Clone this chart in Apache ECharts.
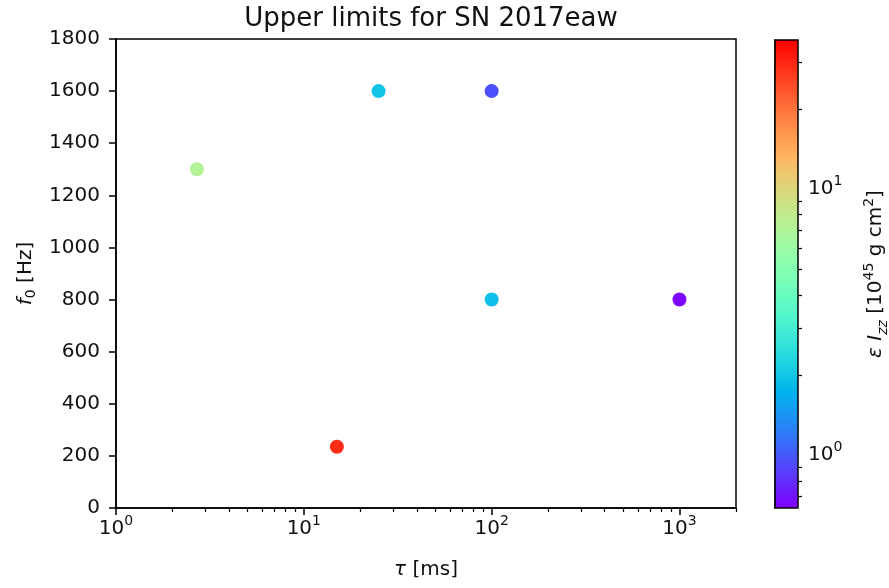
<!DOCTYPE html>
<html>
<head>
<meta charset="utf-8">
<script src="https://cdn.jsdelivr.net/npm/echarts@6/dist/echarts.min.js"></script>
<style>
  html, body { margin: 0; padding: 0; background: #fff; }
  #chart { width: 889px; height: 588px; }
</style>
</head>
<body>
<div id="chart"></div>
<script>
// upper limits per search: damping time tau [ms], frequency f0 [Hz], eps*Izz [1e45 g cm^2]
var tau = [2.7, 25, 100, 100, 1000, 15]
var f0 = [1300, 1600, 1600, 800, 800, 235]
var epsIzz = [7.2, 1.97, 0.95, 1.9, 0.65, 29]

// axis ranges and ticks
var tauMin = 1
var tauMax = 2000
var tauMajor = [1, 10, 100, 1000]
var tauMinor = [2, 3, 4, 5, 6, 7, 8, 9, 20, 30, 40, 50, 60, 70, 80, 90, 200, 300, 400, 500, 600, 700, 800, 900, 2000]
var fMin = 0
var fMax = 1800
var fStep = 200
var cbMin = 0.632
var cbMax = 36.3
var cbMajor = [1, 10]
var cbMinor = [0.7, 0.8, 0.9, 2, 3, 4, 5, 6, 7, 8, 9, 20, 30]

var FONT = 'DejaVu Sans'
var INK = '#111'
var lg = function(v) { return Math.log10(v) }

// matplotlib 'rainbow' colormap stops
function rainbow(n) {
  var out = []
  for (var i = 0; i < n; i++) {
    var x = i / (n - 1)
    var r = Math.min(1, Math.abs(2 * x - 0.5))
    var g = Math.sin(Math.PI * x)
    var b = Math.cos(Math.PI * x / 2)
    out.push('rgb(' + Math.round(r * 255) + ',' + Math.round(g * 255) + ',' + Math.round(Math.max(0, b) * 255) + ')')
  }
  return out
}

var points = tau.map(function(t, i) {
  return [lg(t), f0[i], epsIzz[i], lg(epsIzz[i])]
})

var powLabel = function(v) {
  return '{b|10}{s|' + Math.round(v) + '}'
}
var powRich = {
  b: { fontSize: 20, fontFamily: FONT, color: INK, lineHeight: 30 },
  s: { fontSize: 14, fontFamily: FONT, color: INK, lineHeight: 14, verticalAlign: 'top' }
}

var chart = echarts.init(document.getElementById('chart'), null, { renderer: 'canvas' })
chart.setOption({
  backgroundColor: '#fff',
  animation: false,
  title: {
    text: 'Upper limits for SN 2017eaw',
    left: 426,
    textAlign: 'center',
    top: 1,
    textStyle: { fontFamily: FONT, fontSize: 26, fontWeight: 'normal', color: INK }
  },
  grid: [
    {
      left: 116, right: 153, top: 39, bottom: 80,
      show: true, borderColor: '#000', borderWidth: 1.5, backgroundColor: 'transparent',
      outerBoundsMode: 'none'
    },
    { left: 775, top: 40, width: 23, height: 468, outerBoundsMode: 'none' }
  ],
  xAxis: [
    {
      type: 'value', gridIndex: 0, min: lg(tauMin), max: lg(tauMax),
      name: '{i|τ}{n| [ms]}', nameLocation: 'middle', nameGap: 52,
      nameTextStyle: {
        fontFamily: FONT, fontSize: 20, color: INK,
        rich: {
          i: { fontFamily: FONT, fontSize: 20, fontStyle: 'italic', color: INK },
          n: { fontFamily: FONT, fontSize: 20, color: INK }
        }
      },
      axisLine: { show: true, lineStyle: { color: '#000', width: 1.5 } },
      axisTick: { show: true, length: 7, lineStyle: { color: '#000', width: 1.5 }, customValues: tauMajor.map(lg) },
      axisLabel: { margin: 6, customValues: tauMajor.map(lg), formatter: powLabel, rich: powRich },
      splitLine: { show: false }
    },
    {
      type: 'value', gridIndex: 0, position: 'bottom', min: lg(tauMin), max: lg(tauMax),
      axisLine: { show: false },
      axisTick: { show: true, length: 4, lineStyle: { color: '#000', width: 1.2 }, customValues: tauMinor.map(lg) },
      axisLabel: { show: false },
      splitLine: { show: false }
    },
    { type: 'value', gridIndex: 1, min: 0, max: 1, show: false }
  ],
  yAxis: [
    {
      type: 'value', gridIndex: 0, min: fMin, max: fMax, interval: fStep,
      name: '{i|f}{sub|0}{n| [Hz]}', nameLocation: 'middle', nameRotate: 90, nameGap: 72,
      nameTextStyle: {
        fontFamily: FONT, fontSize: 20, color: INK,
        rich: {
          i: { fontFamily: FONT, fontSize: 20, fontStyle: 'italic', color: INK, lineHeight: 24 },
          sub: { fontFamily: FONT, fontSize: 14, color: INK, lineHeight: 14, verticalAlign: 'bottom' },
          n: { fontFamily: FONT, fontSize: 20, color: INK, lineHeight: 24 }
        }
      },
      axisLine: { show: true, lineStyle: { color: '#000', width: 1.5 } },
      axisTick: { show: true, length: 7, lineStyle: { color: '#000', width: 1.5 } },
      axisLabel: {
        margin: 16, fontFamily: FONT, fontSize: 20, color: INK,
        formatter: function(v) { return String(v) }
      },
      splitLine: { show: false }
    },
    {
      type: 'value', gridIndex: 1, position: 'right', min: lg(cbMin), max: lg(cbMax),
      name: '{i|ε I}{sub|zz}{n| [10}{sup|45}{n| g cm}{sup|2}{n|]}',
      nameLocation: 'middle', nameRotate: 90, nameGap: 64,
      nameTextStyle: {
        fontFamily: FONT, fontSize: 20, color: INK,
        rich: {
          i: { fontFamily: FONT, fontSize: 20, fontStyle: 'italic', color: INK, lineHeight: 28 },
          sub: { fontFamily: FONT, fontSize: 14, fontStyle: 'italic', color: INK, lineHeight: 14, verticalAlign: 'bottom' },
          sup: { fontFamily: FONT, fontSize: 14, color: INK, lineHeight: 14, verticalAlign: 'top' },
          n: { fontFamily: FONT, fontSize: 20, color: INK, lineHeight: 28 }
        }
      },
      axisLine: { show: true, lineStyle: { color: '#000', width: 1.5 } },
      axisTick: { show: true, length: 7, lineStyle: { color: '#000', width: 1.5 }, customValues: cbMajor.map(lg) },
      axisLabel: { margin: 10, customValues: cbMajor.map(lg), formatter: powLabel, rich: powRich },
      splitLine: { show: false }
    },
    {
      type: 'value', gridIndex: 1, position: 'right', min: lg(cbMin), max: lg(cbMax),
      axisLine: { show: false },
      axisTick: { show: true, length: 4, lineStyle: { color: '#000', width: 1.2 }, customValues: cbMinor.map(lg) },
      axisLabel: { show: false },
      splitLine: { show: false }
    }
  ],
  visualMap: {
    type: 'continuous',
    seriesIndex: 0,
    dimension: 3,
    min: lg(cbMin),
    max: lg(cbMax),
    left: 775,
    top: 40,
    padding: 0,
    itemWidth: 23,
    itemHeight: 468,
    calculable: false,
    hoverLink: false,
    text: null,
    inRange: { color: rainbow(21) }
  },
  graphic: [
    {
      type: 'rect', z: 100, silent: true,
      shape: { x: 775, y: 40, width: 23, height: 468 },
      style: { fill: 'none', stroke: '#000', lineWidth: 1.5 }
    }
  ],
  series: [
    {
      type: 'scatter',
      xAxisIndex: 0,
      yAxisIndex: 0,
      symbol: 'circle',
      symbolSize: 14,
      encode: { x: 0, y: 1 },
      itemStyle: { opacity: 1 },
      data: points
    }
  ]
})
</script>
</body>
</html>
